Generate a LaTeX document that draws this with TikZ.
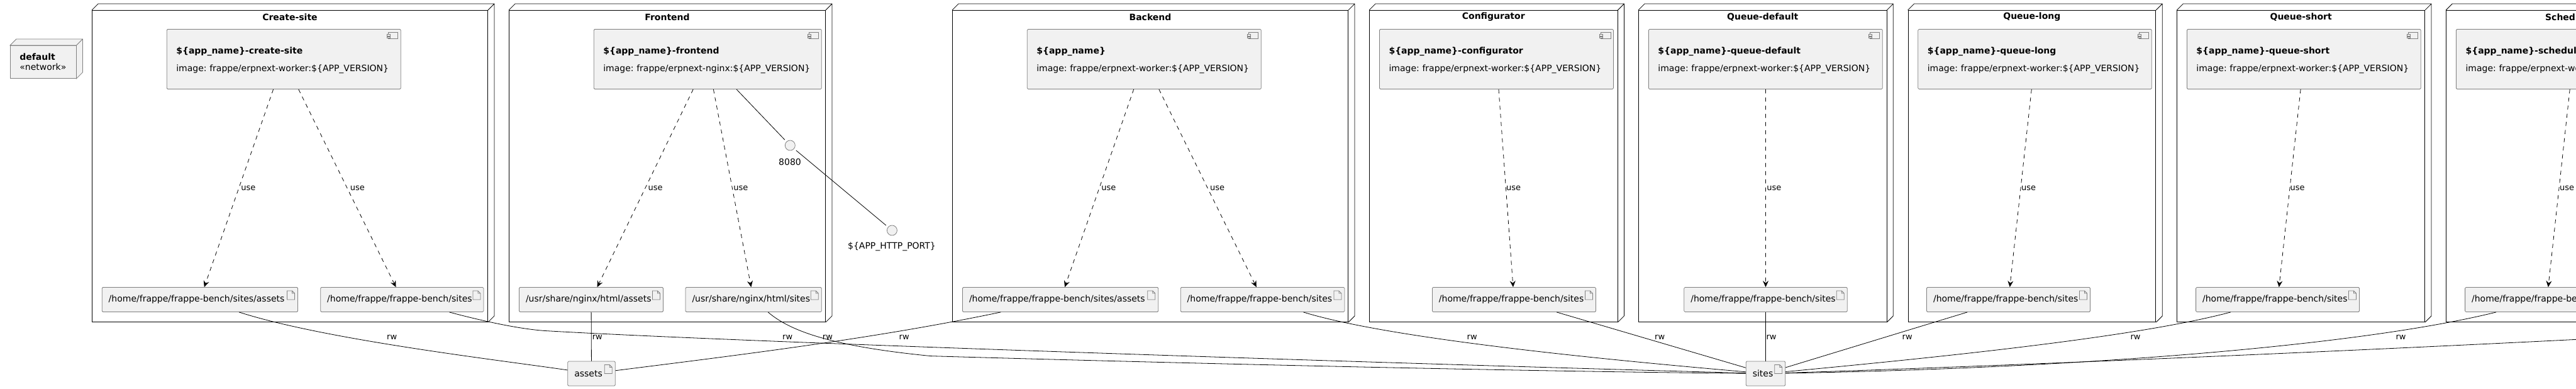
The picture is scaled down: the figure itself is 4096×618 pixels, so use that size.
\documentclass[tikz,border=0pt]{standalone}
\usepackage{fontspec}
\setmainfont{DejaVu Sans}
\usepackage{tikz}
\usetikzlibrary{arrows.meta}
\definecolor{boxfill}{HTML}{F1F1F1}
\definecolor{boxline}{HTML}{7F7F7F}
\tikzstyle{cuboid} = [rectangle, draw=black, line width=0.8pt, minimum height=495.1pt, inner sep=0pt, append after command={\pgfextra{\draw [black, line width=0.8pt] (\tikzlastnode.north west) -- ++(10pt,10pt) -- ([shift={(10pt,10pt)}]\tikzlastnode.north east) -- ([shift={(10pt,10pt)}]\tikzlastnode.south east) -- (\tikzlastnode.south east) (\tikzlastnode.north east) -- ++(10pt,10pt);}}]
\tikzstyle{network} = [rectangle, draw=boxline, fill=boxfill, line width=0.8pt, align=left, font=\fontsize{14}{15.6}\selectfont, inner xsep=15pt, inner ysep=0pt, minimum height=52pt, text width=74.7pt, append after command={\pgfextra{\draw [boxline, fill=boxfill, line width=0.8pt] (\tikzlastnode.north west) -- ++(10pt,10pt) -- ([shift={(10pt,10pt)}]\tikzlastnode.north east) -- ([shift={(10pt,10pt)}]\tikzlastnode.south east) -- (\tikzlastnode.south east) -- (\tikzlastnode.north east) -- cycle (\tikzlastnode.north east) -- ++(10pt,10pt);}}]
\tikzstyle{service} = [rectangle, rounded corners=1.5pt, draw=boxline, fill=boxfill, line width=0.8pt, align=left, font=\fontsize{14}{16.8}\selectfont, inner xsep=15pt, inner ysep=0pt, minimum height=95pt, text depth=27pt, path picture={\draw [boxline, line width=0.8pt, sharp corners] ([shift={(-20pt,-4.5pt)}]path picture bounding box.north east) rectangle ([shift={(-4.5pt,-15pt)}]path picture bounding box.north east); \draw [boxline, fill=boxfill, line width=0.8pt, sharp corners] ([shift={(-22pt,-8pt)}]path picture bounding box.north east) rectangle ([shift={(-17pt,-10.5pt)}]path picture bounding box.north east); \draw [boxline, fill=boxfill, line width=0.8pt, sharp corners] ([shift={(-22pt,-11.5pt)}]path picture bounding box.north east) rectangle ([shift={(-17pt,-14pt)}]path picture bounding box.north east);}]
\tikzstyle{volume} = [rectangle, rounded corners=1.5pt, draw=boxline, fill=boxfill, line width=0.8pt, align=left, font=\fontsize{14}{16.8}\selectfont, inner xsep=10.5pt, inner ysep=0pt, minimum height=39pt, path picture={\draw [boxline, line width=0.8pt, sharp corners] ([shift={(-17pt,-5.5pt)}]path picture bounding box.north east) -- ([shift={(-17pt,-19.5pt)}]path picture bounding box.north east) -- ([shift={(-5pt,-19.5pt)}]path picture bounding box.north east) -- ([shift={(-5pt,-9.5pt)}]path picture bounding box.north east) -- ([shift={(-9pt,-5.5pt)}]path picture bounding box.north east) -- cycle ([shift={(-9pt,-5.5pt)}]path picture bounding box.north east) -- ([shift={(-9pt,-9.5pt)}]path picture bounding box.north east) -- ([shift={(-5pt,-9.5pt)}]path picture bounding box.north east);}]
\tikzstyle{port} = [circle, draw=boxline, fill=boxfill, line width=0.8pt, minimum size=16pt, inner sep=0pt]
\tikzstyle{heading} = [font=\fontsize{14}{16.8}\selectfont\bfseries, inner sep=0pt]
\tikzstyle{tag} = [font=\fontsize{13}{15.6}\selectfont, inner sep=0pt]
\tikzstyle{porttag} = [font=\fontsize{14}{16.8}\selectfont, inner sep=0pt]
\tikzstyle{usearrow} = [line width=0.8pt, dash pattern=on 6.5pt off 6.5pt, -{Stealth[length=10pt,width=9pt,inset=3.5pt]}]
\tikzstyle{wire} = [line width=0.8pt, black]

\begin{document}
\frenchspacing
\begin{tikzpicture}[x=1pt, y=-1pt]
\useasboundingbox (0,0) rectangle (4096,618);
\clip (0,0) rectangle (4096,618);

\node (default) [network] at (68.7,98.5) {\textbf{default}\\«network»};

% deployment boxes
\node (createsite) [cuboid, minimum width=629pt] at (461,264) {};
\node (frontend) [cuboid, minimum width=503pt] at (1061,264) {};
\node (backend) [cuboid, minimum width=629.2pt] at (1829,264) {};
\node (configurator) [cuboid, minimum width=394.5pt] at (2374.75,264) {};
\node (queuedefault) [cuboid, minimum width=394.4pt] at (2802.7,264) {};
\node (queuelong) [cuboid, minimum width=393.9pt] at (3230.85,264) {};
\node (queueshort) [cuboid, minimum width=394pt] at (3658.65,264) {};
\node (scheduler) [cuboid, minimum width=394pt] at (4086.6,264) {};

\node (createsitetitle) [heading] at (461,27) {Create-site};
\node (frontendtitle) [heading] at (1061,27) {Frontend};
\node (backendtitle) [heading] at (1829,27) {Backend};
\node (configuratortitle) [heading] at (2374.75,27) {Configurator};
\node (queuedefaulttitle) [heading] at (2802.7,27) {Queue-default};
\node (queuelongtitle) [heading] at (3230.85,27) {Queue-long};
\node (queueshorttitle) [heading] at (3658.65,27) {Queue-short};
\node (schedulertitle) [heading] at (4086.6,27) {Scheduler};

% containers
\node (svccreate) [service, text width=341.9pt] at (451.25,94) {\textbf{\$\{app\_name\}-create-site}\\[11pt]image: frappe/erpnext-worker:\$\{APP\_VERSION\}};
\node (svcfrontend) [service, text width=332pt] at (1125.3,94) {\textbf{\$\{app\_name\}-frontend}\\[11pt]image: frappe/erpnext-nginx:\$\{APP\_VERSION\}};
\node (svcbackend) [service, text width=342pt] at (1819.3,94) {\textbf{\$\{app\_name\}}\\[11pt]image: frappe/erpnext-worker:\$\{APP\_VERSION\}};
\node (svcconfig) [service, text width=341.9pt] at (2379.45,94) {\textbf{\$\{app\_name\}-configurator}\\[11pt]image: frappe/erpnext-worker:\$\{APP\_VERSION\}};
\node (svcdefault) [service, text width=341.9pt] at (2807.35,94) {\textbf{\$\{app\_name\}-queue-default}\\[11pt]image: frappe/erpnext-worker:\$\{APP\_VERSION\}};
\node (svclong) [service, text width=341.4pt] at (3235.5,94) {\textbf{\$\{app\_name\}-queue-long}\\[11pt]image: frappe/erpnext-worker:\$\{APP\_VERSION\}};
\node (svcshort) [service, text width=341.8pt] at (3663.3,94) {\textbf{\$\{app\_name\}-queue-short}\\[11pt]image: frappe/erpnext-worker:\$\{APP\_VERSION\}};
\node (svcsched) [service, text width=341.8pt] at (4091.4,94) {\textbf{\$\{app\_name\}-scheduler}\\[11pt]image: frappe/erpnext-worker:\$\{APP\_VERSION\}};

% mounts
\node (mntcreateassets) [volume, text width=290.3pt] at (317.85,476) {/home/frappe/frappe-bench/sites/assets};
\node (mntcreatesites) [volume, text width=238.2pt] at (639.3,476) {/home/frappe/frappe-bench/sites};
\node (mntfrontassets) [volume, text width=208pt] at (940,476) {/usr/share/nginx/html/assets};
\node (mntfrontsites) [volume, text width=195.3pt] at (1198.15,476) {/usr/share/nginx/html/sites};
\node (mntbackassets) [volume, text width=290.2pt] at (1686.1,476) {/home/frappe/frappe-bench/sites/assets};
\node (mntbacksites) [volume, text width=239.7pt] at (2007.55,476) {/home/frappe/frappe-bench/sites};
\node (mntconfig) [volume, text width=239pt] at (2407.4,476) {/home/frappe/frappe-bench/sites};
\node (mntdefault) [volume, text width=238.4pt] at (2807.5,476) {/home/frappe/frappe-bench/sites};
\node (mntlong) [volume, text width=239pt] at (3193.5,476) {/home/frappe/frappe-bench/sites};
\node (mntshort) [volume, text width=238.9pt] at (3621.55,476) {/home/frappe/frappe-bench/sites};
\node (mntsched) [volume, text width=239pt] at (4049.6,476) {/home/frappe/frappe-bench/sites};

\node (assets) [volume, text width=54.4pt] at (940.5,593.5) {assets};
\node (sites) [volume, text width=41.5pt] at (2807.5,593.5) {sites};

\node (port8080) [port] at (1256.3,231) {};
\node (porthttp) [port] at (1418.4,366) {};
\node (port8080text) [porttag] at (1256,257) {8080};
\node (porthttptext) [porttag] at (1418,392) {\$\{APP\_HTTP\_PORT\}};

\coordinate (offpage) at (4200,534);

\draw [usearrow] (svccreate) -- node [tag, pos=0.5, anchor=west, xshift=3.3pt] {use} (mntcreateassets);
\draw [usearrow] (svccreate) -- node [tag, pos=0.5, anchor=west, xshift=4.4pt] {use} (mntcreatesites);
\draw [usearrow] (svcfrontend) -- node [tag, pos=0.5, anchor=west, xshift=4.2pt] {use} (mntfrontassets);
\draw [usearrow] (svcfrontend) -- node [tag, pos=0.5, anchor=west, xshift=1.6pt] {use} (mntfrontsites);
\draw [usearrow] (svcbackend) -- node [tag, pos=0.5, anchor=west, xshift=3.2pt] {use} (mntbackassets);
\draw [usearrow] (svcbackend) -- node [tag, pos=0.5, anchor=west, xshift=3.4pt] {use} (mntbacksites);
\draw [usearrow] (svcconfig) -- node [tag, pos=0.5, anchor=west, xshift=0.3pt] {use} (mntconfig);
\draw [usearrow] (svcdefault) -- node [tag, pos=0.5, anchor=west, xshift=1.5pt] {use} (mntdefault);
\draw [usearrow] (svclong) -- node [tag, pos=0.5, anchor=west, xshift=0.8pt] {use} (mntlong);
\draw [usearrow] (svcshort) -- node [tag, pos=0.5, anchor=west, xshift=0.3pt] {use} (mntshort);
\draw [usearrow] (svcsched) -- node [tag, pos=0.5, anchor=west, xshift=0.7pt] {use} (mntsched);

\draw [wire, shorten >=4pt] (svcfrontend) -- (port8080);
\draw [wire, shorten <=4pt, shorten >=4pt] (port8080) -- (porthttp);

\draw [wire] (mntcreateassets) .. controls (518,540) and (790,571.5) .. (assets);
\draw [wire] (mntcreatesites) .. controls (760,508) and (820,522) .. (865,525.4) .. controls (1200,545) and (2300,580) .. (sites);
\draw [wire] (mntfrontassets) -- (assets);
\draw [wire] (mntfrontsites) .. controls (1255,525) and (1320,550) .. (1480,565.6) .. controls (1800,575) and (2400,590) .. (sites);
\draw [wire] (mntbackassets) .. controls (1400,536) and (1200,561) .. (assets);
\draw [wire] (mntbacksites) .. controls (2200,535) and (2500,567) .. (sites);
\draw [wire] (mntconfig) -- (sites);
\draw [wire] (mntdefault) -- (sites);
\draw [wire] (mntlong) -- (sites);
\draw [wire] (mntshort) .. controls (3400,535) and (3100,566) .. (sites);
\draw [wire] (mntsched) .. controls (3750,550) and (3300,585) .. (sites);
\draw [wire] (offpage) .. controls (3800,555) and (3200,581) .. (sites);

\node (rwa) [tag, anchor=west] at (615,536) {rw};
\node (rwb) [tag, anchor=west] at (941.6,536) {rw};
\node (rwc) [tag, anchor=west] at (1244,536) {rw};
\node (rwd) [tag, anchor=west] at (1307.7,536) {rw};
\node (rwe) [tag, anchor=west] at (1429.5,536) {rw};
\node (rwf) [tag, anchor=west] at (2332.5,536) {rw};
\node (rwg) [tag, anchor=west] at (2631,536) {rw};
\node (rwh) [tag, anchor=west] at (2808.4,536) {rw};
\node (rwi) [tag, anchor=west] at (3024.5,536) {rw};
\node (rwj) [tag, anchor=west] at (3387.4,536) {rw};
\node (rwk) [tag, anchor=west] at (3809.3,536) {rw};

\end{tikzpicture}
\end{document}
